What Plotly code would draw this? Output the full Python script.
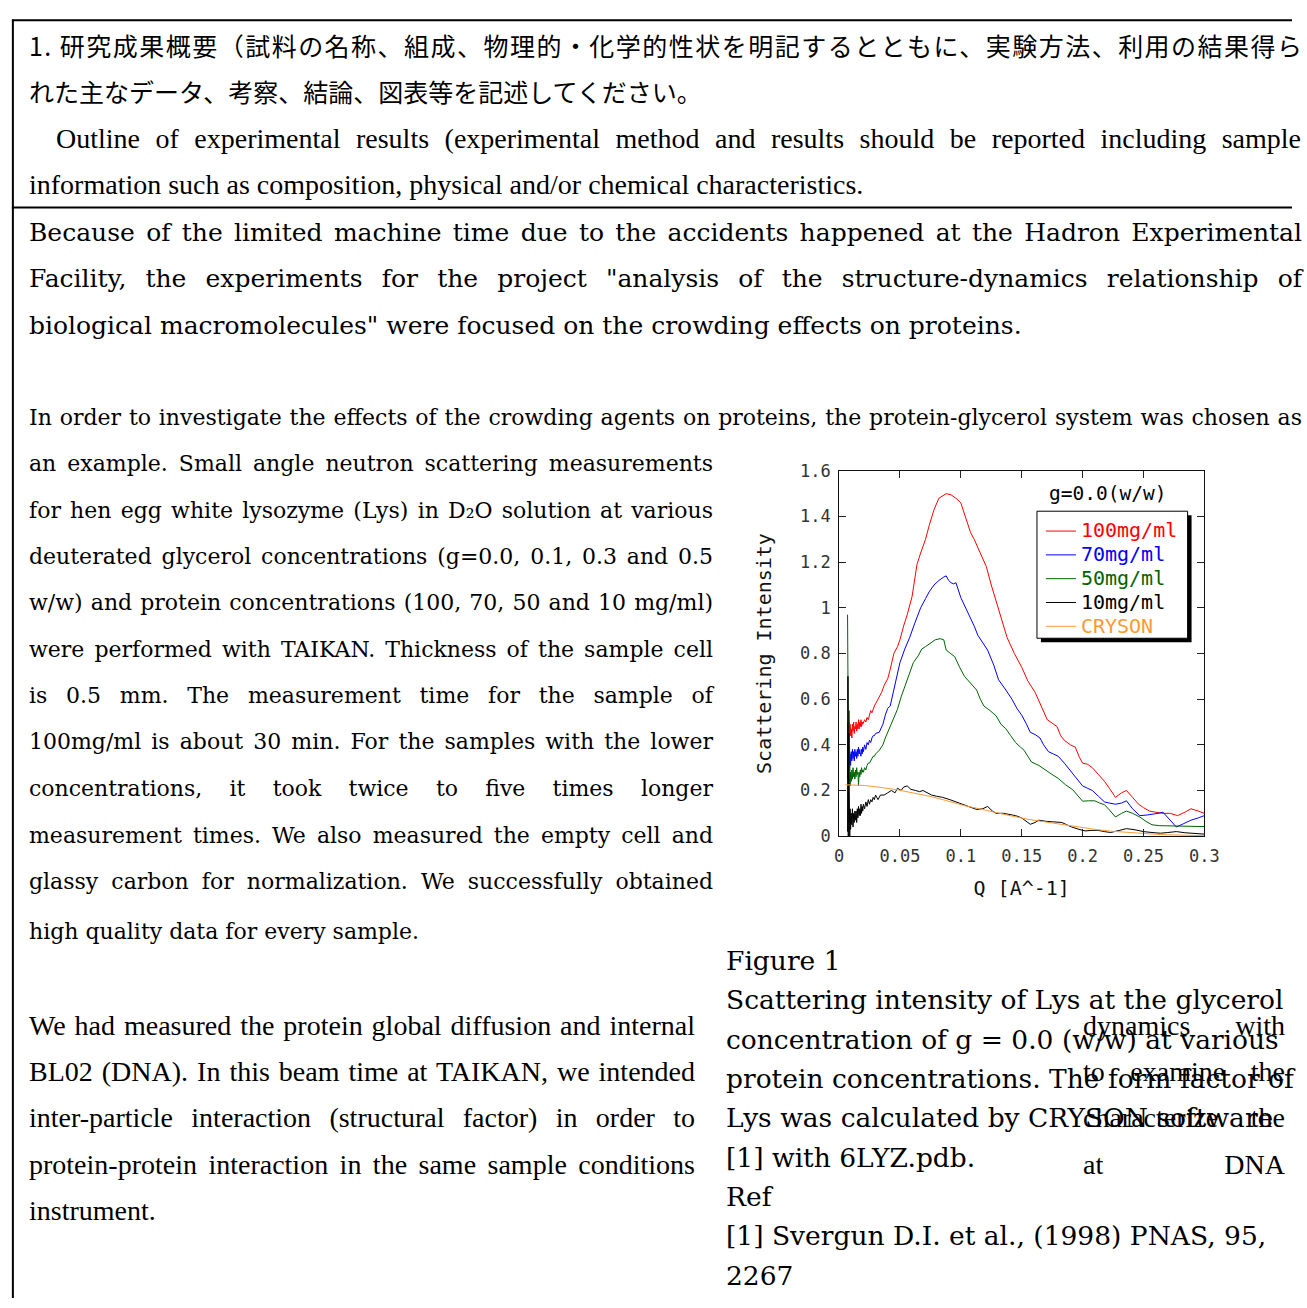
import json
import plotly.graph_objects as go

W, H = 1307, 1308

# ---------------- data: scattering intensity vs Q ----------------
q_100 = [0.0070, 0.0073, 0.0076, 0.0079, 0.0082, 0.0085, 0.0088, 0.0091, 0.0095, 0.0100,
         0.0105, 0.0110, 0.0115, 0.0120, 0.0125, 0.0130, 0.0135, 0.0140, 0.0145, 0.0150,
         0.0155, 0.0160, 0.0165, 0.0170, 0.0175, 0.0180, 0.0185, 0.0190, 0.0195, 0.0200,
         0.0210, 0.0220, 0.0230, 0.0240, 0.0250, 0.0260, 0.0270, 0.0280, 0.0290, 0.0300,
         0.033, 0.035, 0.037, 0.040, 0.042, 0.045, 0.048, 0.050, 0.053, 0.056,
         0.060, 0.062, 0.064, 0.067, 0.071, 0.074, 0.078, 0.082, 0.085, 0.088,
         0.092, 0.096, 0.100, 0.103, 0.105, 0.108, 0.111, 0.115, 0.121, 0.125,
         0.129, 0.133, 0.138, 0.144, 0.150, 0.155, 0.161, 0.166, 0.171, 0.175,
         0.179, 0.182, 0.185, 0.190, 0.194, 0.197, 0.200, 0.204, 0.208, 0.213,
         0.218, 0.222, 0.227, 0.232, 0.236, 0.241, 0.246, 0.250, 0.255, 0.260,
         0.266, 0.272, 0.278, 0.284, 0.289, 0.295, 0.300]
i_100 = [0.30, 0.50, 0.36, 0.48, 0.43, 0.50, 0.45, 0.49, 0.44, 0.47,
         0.43, 0.49, 0.46, 0.50, 0.45, 0.48, 0.47, 0.50, 0.46, 0.49,
         0.47, 0.51, 0.47, 0.50, 0.48, 0.51, 0.48, 0.50, 0.49, 0.50,
         0.51, 0.50, 0.52, 0.51, 0.53, 0.55, 0.54, 0.56, 0.57, 0.58,
         0.61, 0.63, 0.66, 0.69, 0.73, 0.80, 0.83, 0.86, 0.92, 0.97,
         1.05, 1.12, 1.19, 1.24, 1.30, 1.36, 1.43, 1.48, 1.49, 1.50,
         1.495, 1.48, 1.46, 1.41, 1.37, 1.33, 1.30, 1.25, 1.18, 1.10,
         1.03, 0.96, 0.87, 0.80, 0.74, 0.68, 0.63, 0.57, 0.51, 0.495,
         0.48, 0.44, 0.42, 0.40, 0.39, 0.35, 0.32, 0.315, 0.30, 0.27,
         0.24, 0.21, 0.17, 0.19, 0.20, 0.17, 0.14, 0.125, 0.11, 0.105,
         0.10, 0.10, 0.09, 0.105, 0.12, 0.11, 0.10]

q_70 = [0.0070, 0.0073, 0.0076, 0.0079, 0.0082, 0.0085, 0.0088, 0.0091, 0.0095, 0.0100,
        0.0105, 0.0110, 0.0115, 0.0120, 0.0125, 0.0130, 0.0135, 0.0140, 0.0145, 0.0150,
        0.0155, 0.0160, 0.0165, 0.0170, 0.0175, 0.0180, 0.0185, 0.0190, 0.0195, 0.0200,
        0.0210, 0.0220, 0.0230, 0.0240, 0.0250, 0.0260, 0.0270, 0.0280, 0.0290, 0.0300,
        0.033, 0.036, 0.038, 0.040, 0.042, 0.045, 0.048, 0.050, 0.054, 0.058,
        0.062, 0.067, 0.071, 0.074, 0.078, 0.082, 0.086, 0.088, 0.090, 0.092,
        0.094, 0.096, 0.100, 0.104, 0.107, 0.111, 0.114, 0.118, 0.122, 0.127,
        0.131, 0.137, 0.142, 0.146, 0.150, 0.154, 0.157, 0.161, 0.165, 0.168,
        0.172, 0.176, 0.180, 0.185, 0.191, 0.195, 0.200, 0.204, 0.208, 0.213,
        0.218, 0.222, 0.227, 0.232, 0.236, 0.241, 0.247, 0.252, 0.257, 0.262,
        0.266, 0.271, 0.277, 0.283, 0.289, 0.295, 0.300]
i_70 = [0.25, 0.40, 0.28, 0.37, 0.30, 0.38, 0.32, 0.36, 0.31, 0.37,
        0.33, 0.38, 0.34, 0.37, 0.33, 0.38, 0.35, 0.37, 0.34, 0.38,
        0.35, 0.39, 0.36, 0.38, 0.36, 0.35, 0.38, 0.36, 0.39, 0.37,
        0.40, 0.38, 0.41, 0.40, 0.42, 0.41, 0.43, 0.44, 0.44, 0.45,
        0.455, 0.49, 0.53, 0.56, 0.57, 0.64, 0.70, 0.76, 0.82, 0.87,
        0.93, 1.00, 1.04, 1.07, 1.10, 1.12, 1.135, 1.14, 1.12, 1.11,
        1.105, 1.11, 1.045, 1.00, 0.96, 0.92, 0.88, 0.85, 0.815, 0.75,
        0.685, 0.64, 0.60, 0.56, 0.53, 0.49, 0.455, 0.445, 0.43, 0.40,
        0.37, 0.36, 0.35, 0.32, 0.28, 0.255, 0.22, 0.21, 0.20, 0.175,
        0.15, 0.145, 0.14, 0.145, 0.155, 0.12, 0.09, 0.092, 0.095, 0.10,
        0.105, 0.075, 0.04, 0.055, 0.07, 0.08, 0.09]

q_50 = [0.0070, 0.0073, 0.0076, 0.0079, 0.0082, 0.0085, 0.0088, 0.0091, 0.0095, 0.0100,
        0.0105, 0.0110, 0.0115, 0.0120, 0.0125, 0.0130, 0.0135, 0.0140, 0.0145, 0.0150,
        0.0155, 0.0160, 0.0165, 0.0170, 0.0175, 0.0180, 0.0185, 0.0190, 0.0195, 0.0200,
        0.0210, 0.0220, 0.0230, 0.0240, 0.0250, 0.0260, 0.0270, 0.0280, 0.0290, 0.0300,
        0.033, 0.036, 0.038, 0.040, 0.044, 0.048, 0.051, 0.055, 0.058, 0.061,
        0.065, 0.068, 0.071, 0.075, 0.079, 0.083, 0.086, 0.088, 0.092, 0.095,
        0.099, 0.103, 0.108, 0.113, 0.116, 0.119, 0.124, 0.129, 0.133, 0.137,
        0.141, 0.145, 0.149, 0.152, 0.155, 0.158, 0.164, 0.169, 0.175, 0.180,
        0.186, 0.192, 0.196, 0.200, 0.205, 0.210, 0.214, 0.218, 0.222, 0.227,
        0.232, 0.236, 0.241, 0.247, 0.252, 0.257, 0.263, 0.269, 0.277, 0.285,
        0.292, 0.300]
i_50 = [0.97, 0.22, 0.30, 0.20, 0.55, 0.25, 0.30, 0.22, 0.28, 0.24,
        0.29, 0.25, 0.30, 0.26, 0.28, 0.25, 0.29, 0.26, 0.30, 0.27,
        0.28, 0.22, 0.28, 0.26, 0.29, 0.27, 0.30, 0.28, 0.29, 0.28,
        0.30, 0.29, 0.31, 0.32, 0.32, 0.33, 0.34, 0.35, 0.35, 0.36,
        0.376, 0.40, 0.43, 0.455, 0.50, 0.556, 0.61, 0.67, 0.72, 0.76,
        0.79, 0.82, 0.83, 0.845, 0.86, 0.865, 0.86, 0.815, 0.80, 0.786,
        0.74, 0.70, 0.67, 0.64, 0.60, 0.57, 0.55, 0.527, 0.49, 0.47,
        0.44, 0.41, 0.39, 0.376, 0.35, 0.325, 0.31, 0.29, 0.27, 0.253,
        0.225, 0.203, 0.18, 0.153, 0.155, 0.155, 0.145, 0.138, 0.115, 0.084,
        0.10, 0.11, 0.10, 0.084, 0.065, 0.05, 0.046, 0.045, 0.043, 0.042,
        0.042, 0.042]

q_10 = [0.0070, 0.0073, 0.0076, 0.0079, 0.0082, 0.0085, 0.0088, 0.0091, 0.0095, 0.0100,
        0.0105, 0.0110, 0.0115, 0.0120, 0.0125, 0.0130, 0.0135, 0.0140, 0.0145, 0.0150,
        0.0155, 0.0160, 0.0165, 0.0170, 0.0175, 0.0180, 0.0185, 0.0190, 0.0195, 0.0200,
        0.0210, 0.0220, 0.0230, 0.0240, 0.0250, 0.0260, 0.0270, 0.0280, 0.0290, 0.0300,
        0.032, 0.034, 0.037, 0.040, 0.043, 0.046, 0.048, 0.051, 0.053, 0.056,
        0.059, 0.063, 0.066, 0.069, 0.072, 0.076, 0.080, 0.085, 0.091, 0.096,
        0.102, 0.107, 0.113, 0.118, 0.122, 0.126, 0.129, 0.135, 0.140, 0.145,
        0.150, 0.154, 0.157, 0.161, 0.164, 0.170, 0.175, 0.180, 0.183, 0.187,
        0.191, 0.197, 0.202, 0.207, 0.212, 0.218, 0.223, 0.230, 0.236, 0.243,
        0.250, 0.257, 0.264, 0.270, 0.277, 0.284, 0.291, 0.300]
i_10 = [0.02, 0.70, 0.00, 0.45, 0.02, 0.25, 0.00, 0.12, 0.03, 0.10,
        0.05, 0.12, 0.04, 0.10, 0.06, 0.11, 0.07, 0.11, 0.06, 0.12,
        0.08, 0.13, 0.09, 0.12, 0.09, 0.14, 0.10, 0.13, 0.11, 0.14,
        0.12, 0.15, 0.13, 0.16, 0.14, 0.16, 0.15, 0.17, 0.16, 0.18,
        0.16, 0.18, 0.18, 0.19, 0.20, 0.19, 0.21, 0.20, 0.215, 0.22,
        0.205, 0.20, 0.195, 0.20, 0.19, 0.18, 0.175, 0.17, 0.16, 0.15,
        0.14, 0.13, 0.117, 0.12, 0.13, 0.11, 0.10, 0.10, 0.095, 0.09,
        0.08, 0.065, 0.052, 0.06, 0.07, 0.065, 0.063, 0.062, 0.06, 0.05,
        0.04, 0.03, 0.023, 0.025, 0.026, 0.02, 0.016, 0.025, 0.033, 0.028,
        0.02, 0.016, 0.013, 0.016, 0.02, 0.015, 0.012, 0.009]

q_cryson = [0.005, 0.021, 0.035, 0.048, 0.061, 0.075, 0.088, 0.102, 0.115, 0.129,
            0.142, 0.156, 0.169, 0.183, 0.196, 0.210, 0.223, 0.236, 0.250, 0.264,
            0.277, 0.300]
i_cryson = [0.225, 0.222, 0.213, 0.203, 0.189, 0.174, 0.156, 0.135, 0.120, 0.102,
            0.088, 0.073, 0.062, 0.050, 0.040, 0.030, 0.022, 0.016, 0.012, 0.007,
            0.004, 0.002]

series_names = ["100mg/ml", "70mg/ml", "50mg/ml", "10mg/ml", "CRYSON"]
series_colors = ["#ff0000", "#0000ff", "#006400", "#000000", "#ff9933"]
series_q = [q_100, q_70, q_50, q_10, q_cryson]
series_i = [i_100, i_70, i_50, i_10, i_cryson]

x_ticks = [0, 0.05, 0.1, 0.15, 0.2, 0.25, 0.3]
y_ticks = [0, 0.2, 0.4, 0.6, 0.8, 1, 1.2, 1.4, 1.6]


def px(x):
    return x / W


def py(y):
    return 1 - y / H


fig = go.Figure()
for name, color, qs, ints in zip(series_names, series_colors, series_q, series_i):
    fig.add_trace(go.Scatter(
        x=qs, y=ints, mode="lines",
        line=dict(color=color, width=1),
        name=f"<span style='color:{color};font-size:20px'>{name}</span>",
    ))

MONO = "DejaVu Sans Mono"
SERIF_W = "DejaVu Serif"
TIMES = "Liberation Serif"
JP = "Noto Sans CJK JP"

axis_common = dict(
    showline=True, linecolor="#111", linewidth=1, mirror="ticks",
    ticks="inside", ticklen=7, tickcolor="#222", tickwidth=1,
    showgrid=False, zeroline=False,
    tickfont=dict(family=MONO, size=17, color="#333"),
)

fig.update_layout(
    width=W, height=H,
    margin=dict(l=0, r=0, t=0, b=0),
    paper_bgcolor="white", plot_bgcolor="white",
    showlegend=True,
    xaxis=dict(domain=[px(847), px(1218)], range=[0, 0.3],
               tickvals=x_ticks,
               title=dict(text="Q [A^-1]", font=dict(family=MONO, size=20, color="#111"), standoff=16),
               ticklabelstandoff=4, **axis_common),
    yaxis=dict(domain=[py(839), py(468)], range=[0, 1.6],
               tickvals=y_ticks,
               title=dict(text="Scattering Intensity", font=dict(family=MONO, size=20, color="#111"), standoff=22),
               ticklabelstandoff=4, **axis_common),
    legend=dict(x=px(1052), y=py(512), xanchor="left", yanchor="top",
                bgcolor="rgba(0,0,0,0)", borderwidth=0,
                font=dict(family=MONO, size=16, color="black"),
                itemwidth=30, tracegroupgap=0),
)

# legend frame with drop shadow
shapes = [
    dict(type="rect", xref="paper", yref="paper", x0=px(1052), x1=px(1205), y0=py(513), y1=py(642),
         fillcolor="black", line=dict(width=0), layer="above"),
    dict(type="rect", xref="paper", yref="paper", x0=px(1048), x1=px(1201), y0=py(509), y1=py(638),
         fillcolor="white", line=dict(color="black", width=1), layer="above"),
    # page frame
    dict(type="line", xref="paper", yref="paper", x0=px(7), x1=1, y0=py(10.5), y1=py(10.5),
         line=dict(color="black", width=2)),
    dict(type="line", xref="paper", yref="paper", x0=px(7), x1=1, y0=py(200.5), y1=py(200.5),
         line=dict(color="black", width=2)),
    dict(type="line", xref="paper", yref="paper", x0=px(8), x1=px(8), y0=py(10), y1=0,
         line=dict(color="black", width=2)),
]
fig.update_layout(shapes=shapes)

annotations = []
justify = {}


def add_text(text, x, y, family, size, right=None, mode="w", color="black"):
    idx = len(annotations)
    annotations.append(dict(
        text=text, x=px(x), y=py(y), xref="paper", yref="paper",
        xanchor="left", yanchor="middle", align="left", showarrow=False,
        font=dict(family=family, size=size, color=color),
    ))
    if right is not None:
        justify[str(idx)] = [right - x, mode]


# legend heading
add_text("g=0.0(w/w)", 1058, 491, MONO, 19.5)

# header block
add_text("1. 研究成果概要（試料の名称、組成、物理的・化学的性状を明記するとともに、実験方法、利用の結果得ら",
         22, 36, JP, 25, right=1295, mode="c")
add_text("れた主なデータ、考察、結論、図表等を記述してください。", 22, 82, JP, 25)
add_text("Outline of experimental results (experimental method and results should be reported including sample",
         50, 130, TIMES, 28, right=1295)
add_text("information such as composition, physical and/or chemical characteristics.", 22, 177, TIMES, 28)

# introduction
intro = [
    ("Because of the limited machine time due to the accidents happened at the Hadron Experimental", 226, True),
    ("Facility, the experiments for the project \"analysis of the structure-dynamics relationship of", 273, True),
    ("biological macromolecules\" were focused on the crowding effects on proteins.", 320, False),
]
for t, y, j in intro:
    add_text(t, 22, y, SERIF_W, 25, right=1295 if j else None)

add_text("In order to investigate the effects of the crowding agents on proteins, the protein-glycerol system was chosen as",
         22, 414, SERIF_W, 22, right=1295)
method = [
    ("an example. Small angle neutron scattering measurements", 461, True),
    ("for hen egg white lysozyme (Lys) in D₂O solution at various", 508, True),
    ("deuterated glycerol concentrations (g=0.0, 0.1, 0.3 and 0.5", 555, True),
    ("w/w) and protein concentrations (100, 70, 50 and 10 mg/ml)", 602, True),
    ("were performed with TAIKAN. Thickness of the sample cell", 649, True),
    ("is 0.5 mm. The measurement time for the sample of", 696, True),
    ("100mg/ml is about 30 min. For the samples with the lower", 743, True),
    ("concentrations, it took twice to five times longer", 791, True),
    ("measurement times. We also measured the empty cell and", 838, True),
    ("glassy carbon for normalization. We successfully obtained", 885, True),
    ("high quality data for every sample.", 936, False),
]
for t, y, j in method:
    add_text(t, 22, y, SERIF_W, 22, right=706 if j else None)

plan = [
    ("We had measured the protein global diffusion and internal", 1031, True),
    ("BL02 (DNA). In this beam time at TAIKAN, we intended", 1078, True),
    ("inter-particle interaction (structural factor) in order to", 1125, True),
    ("protein-protein interaction in the same sample conditions", 1172, True),
    ("instrument.", 1219, False),
]
for t, y, j in plan:
    add_text(t, 22, y, TIMES, 28, right=688 if j else None)

plan_tail = [("dynamics with", 1031), ("to examine the", 1078),
             ("characterize the", 1125), ("at DNA", 1172)]
for t, y in plan_tail:
    add_text(t, 1093, y, TIMES, 28, right=1295)

caption = ["Figure 1",
           "Scattering intensity of Lys at the glycerol",
           "concentration of g = 0.0 (w/w) at various",
           "protein concentrations. The form factor of",
           "Lys was calculated by CRYSON software",
           "[1] with 6LYZ.pdb.",
           "Ref",
           "[1] Svergun D.I. et al., (1998) PNAS, 95,",
           "2267"]
for k, t in enumerate(caption):
    add_text(t, 730, 965 + 40 * k, SERIF_W, 26.5)

fig.update_layout(annotations=annotations)

# page without body margin; justified lines spread to their column width
post = """
document.body.style.margin = '0';
document.body.style.overflow = 'hidden';
var gd = document.getElementById('{plot_id}');
var spec = __SPEC__;
gd.querySelectorAll('.infolayer g.annotation').forEach(function(g){
  var k = g.getAttribute('data-index');
  if (!(k in spec)) return;
  var t = g.querySelector('text.annotation-text');
  if (!t) return;
  var target = spec[k][0], mode = spec[k][1];
  var w = t.getComputedTextLength();
  var s = t.textContent;
  if (mode === 'w') {
    var n = (s.match(/ /g) || []).length;
    if (n > 0) t.style.wordSpacing = ((target - w) / n) + 'px';
  } else {
    t.style.letterSpacing = ((target - w) / (s.length - 1)) + 'px';
  }
});
""".replace("__SPEC__", json.dumps(justify))

fig.write_html("out.html", post_script=post)
